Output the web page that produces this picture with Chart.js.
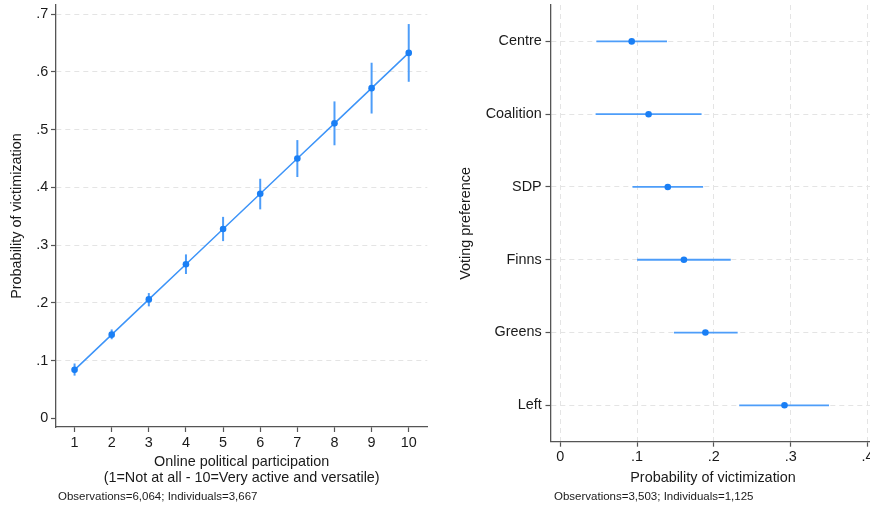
<!DOCTYPE html>
<html>
<head>
<meta charset="utf-8">
<script src="https://cdn.jsdelivr.net/npm/chart.js@4/dist/chart.umd.min.js"></script>
<style>
  html, body { margin: 0; padding: 0; background: #fff; overflow: hidden; }
  body { width: 870px; height: 508px; position: relative; }
  .panel { position: absolute; top: 0; height: 508px; }
  .note { position: absolute; top: 489px; font: 11.5px 'Liberation Sans', Arial, sans-serif; color: #1a1a1a; line-height: 14px; white-space: nowrap; }
</style>
</head>
<body>
<div class="panel" style="left:0;width:440px"><canvas id="leftChart" width="440" height="508"></canvas></div>
<div class="panel" style="left:440px;width:440px"><canvas id="rightChart" width="440" height="508"></canvas></div>
<div class="note" style="left:58px">Observations=6,064; Individuals=3,667</div>
<div class="note" style="left:554px">Observations=3,503; Individuals=1,125</div>
<script>
// left panel: online political participation
const participation = [1, 2, 3, 4, 5, 6, 7, 8, 9, 10];
const probParticipation = [0.084, 0.145, 0.206, 0.267, 0.328, 0.389, 0.450, 0.511, 0.572, 0.633];
const lowParticipation = [0.074, 0.137, 0.194, 0.250, 0.307, 0.362, 0.418, 0.473, 0.528, 0.583];
const highParticipation = [0.095, 0.154, 0.217, 0.284, 0.349, 0.415, 0.482, 0.549, 0.616, 0.683];
const leftYTicks = [0, 0.1, 0.2, 0.3, 0.4, 0.5, 0.6, 0.7];
const leftYLabels = ['0', '.1', '.2', '.3', '.4', '.5', '.6', '.7'];

// right panel: voting preference
const parties = ['Centre', 'Coalition', 'SDP', 'Finns', 'Greens', 'Left'];
const probParty = [0.093, 0.115, 0.140, 0.161, 0.189, 0.292];
const lowParty = [0.047, 0.046, 0.094, 0.100, 0.148, 0.233];
const highParty = [0.139, 0.184, 0.186, 0.222, 0.231, 0.350];
const rightXTicks = [0, 0.1, 0.2, 0.3, 0.4];
const rightXLabels = ['0', '.1', '.2', '.3', '.4'];

const FONT = "'Liberation Sans', Arial, sans-serif";
const textColor = '#1a1a1a';
const axisColor = '#555';
const gridColor = '#e4e4e4';
const pointColor = '#1a7ff5';
const lineColor = '#3d94f8';
const ciColor = '#4d9df9';

const tickFont = { family: FONT, size: 14.4 };
const titleFont = { family: FONT, size: 14.4 };

function fixTicks(values) {
  return scale => { scale.ticks = values.map(v => ({ value: v })); };
}

const leftBars = {
  id: 'leftBars',
  beforeDatasetsDraw(chart) {
    const { ctx, scales: { x, y } } = chart;
    ctx.save();
    ctx.strokeStyle = ciColor;
    ctx.lineWidth = 2;
    participation.forEach((p, i) => {
      const px = x.getPixelForValue(p);
      ctx.beginPath();
      ctx.moveTo(px, y.getPixelForValue(lowParticipation[i]));
      ctx.lineTo(px, y.getPixelForValue(highParticipation[i]));
      ctx.stroke();
    });
    ctx.restore();
  }
};

const rightBars = {
  id: 'rightBars',
  beforeDatasetsDraw(chart) {
    const { ctx, scales: { x, y } } = chart;
    ctx.save();
    ctx.strokeStyle = ciColor;
    ctx.lineWidth = 1.8;
    parties.forEach((p, i) => {
      const py = y.getPixelForValue(i);
      ctx.beginPath();
      ctx.moveTo(x.getPixelForValue(lowParty[i]), py);
      ctx.lineTo(x.getPixelForValue(highParty[i]), py);
      ctx.stroke();
    });
    ctx.restore();
  }
};

new Chart(document.getElementById('leftChart'), {
  type: 'line',
  data: {
    datasets: [{
      data: participation.map((p, i) => ({ x: p, y: probParticipation[i] })),
      borderColor: lineColor,
      borderWidth: 1.5,
      pointRadius: 3.3,
      pointBorderWidth: 0,
      pointBackgroundColor: pointColor,
      tension: 0
    }]
  },
  options: {
    responsive: false,
    animation: false,
    devicePixelRatio: 1,
    layout: { padding: { top: 5, right: 12.7, bottom: 0, left: 0 } },
    plugins: { legend: { display: false }, tooltip: { enabled: false } },
    scales: {
      x: {
        type: 'linear',
        min: 0.5,
        max: 10.5,
        afterBuildTicks: fixTicks(participation),
        afterFit: s => { s.height = 81; s.paddingLeft = 0; s.paddingRight = 0; },
        grid: { drawOnChartArea: false, tickLength: 5, tickColor: axisColor, tickWidth: 1.2 },
        border: { color: axisColor, width: 1.3 },
        ticks: { font: tickFont, color: textColor, padding: 2, maxRotation: 0, autoSkip: false },
        title: {
          display: true,
          text: ['Online political participation', '(1=Not at all - 10=Very active and versatile)'],
          font: { family: FONT, size: 14.4, lineHeight: 1.07 },
          color: textColor,
          padding: { top: 0, bottom: 22.6 }
        }
      },
      y: {
        min: -0.015,
        max: 0.716,
        afterBuildTicks: fixTicks(leftYTicks),
        afterFit: s => { s.width = 56; s.paddingTop = 0; s.paddingBottom = 0; },
        grid: {
          color: c => (c.tick && c.tick.value === 0 ? 'rgba(0,0,0,0)' : gridColor),
          tickColor: axisColor,
          tickLength: 5,
          tickWidth: 1.2
        },
        border: { color: axisColor, width: 1.3, dash: [5, 4] },
        ticks: { font: tickFont, color: textColor, padding: 2.7, autoSkip: false, callback: (v, i) => leftYLabels[i] },
        title: {
          display: true,
          text: 'Probability of victimization',
          font: titleFont,
          color: textColor,
          padding: { top: 8.4, bottom: 0 }
        }
      }
    }
  },
  plugins: [leftBars]
});

new Chart(document.getElementById('rightChart'), {
  type: 'scatter',
  data: {
    datasets: [{
      data: parties.map((p, i) => ({ x: probParty[i], y: p })),
      pointRadius: 3.3,
      pointBorderWidth: 0,
      pointBackgroundColor: pointColor
    }]
  },
  options: {
    responsive: false,
    animation: false,
    devicePixelRatio: 1,
    layout: { padding: { top: 5, right: 4.9, bottom: 0, left: 0 } },
    plugins: { legend: { display: false }, tooltip: { enabled: false } },
    scales: {
      x: {
        type: 'linear',
        min: -0.0121,
        max: 0.41,
        afterBuildTicks: fixTicks(rightXTicks),
        afterFit: s => { s.height = 66.3; s.paddingLeft = 0; s.paddingRight = 0; },
        grid: { color: gridColor, tickColor: axisColor, tickLength: 5, tickWidth: 1.2 },
        border: { color: axisColor, width: 1.3, dash: [5, 4] },
        ticks: { font: tickFont, color: textColor, padding: 2, maxRotation: 0, autoSkip: false, callback: (v, i) => rightXLabels[i] },
        title: {
          display: true,
          text: 'Probability of victimization',
          font: titleFont,
          color: textColor,
          padding: { top: 0, bottom: 21.7 }
        }
      },
      y: {
        type: 'category',
        labels: parties,
        offset: true,
        afterFit: s => { s.width = 111; s.paddingTop = 0; s.paddingBottom = 0; },
        grid: { color: gridColor, tickColor: axisColor, tickLength: 5.5, tickWidth: 1.2 },
        border: { color: axisColor, width: 1.3, dash: [5, 4] },
        ticks: { font: tickFont, color: textColor, padding: 3.8, autoSkip: false },
        title: {
          display: true,
          text: 'Voting preference',
          font: titleFont,
          color: textColor,
          padding: { top: 17.4, bottom: 0 }
        }
      }
    }
  },
  plugins: [rightBars]
});
</script>
</body>
</html>
